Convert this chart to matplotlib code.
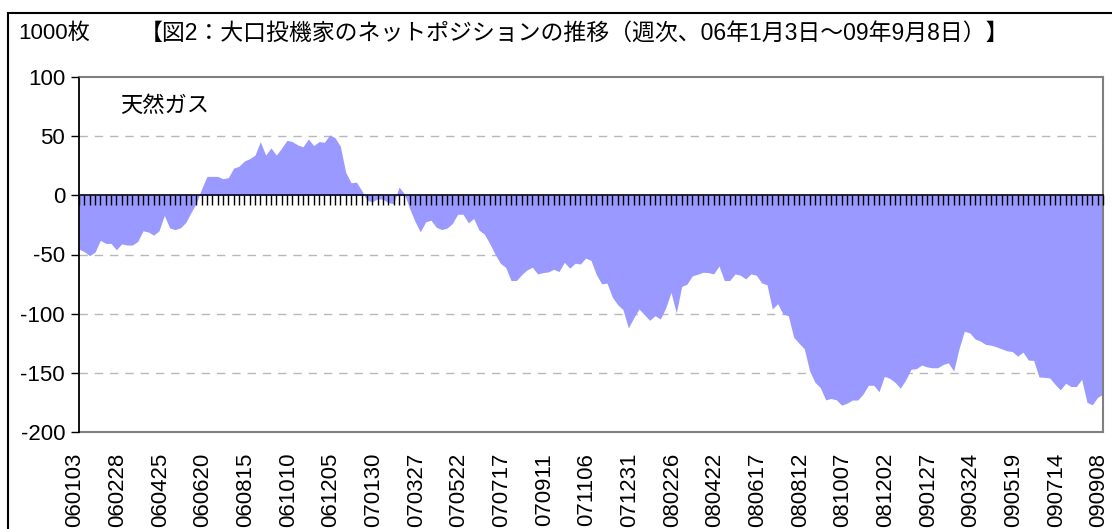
import numpy as np
import matplotlib
matplotlib.use('Agg')
import matplotlib.pyplot as plt
from matplotlib.patches import Rectangle
from matplotlib.transforms import ScaledTranslation

plt.rcParams['font.family'] = ['Liberation Sans', 'Noto Sans CJK JP', 'DejaVu Sans']

# 大口投機家のネットポジション（天然ガス、週次、1000枚）
net_position = [
    -45.4, -47.6, -51, -48, -38, -40.6, -40.6, -46, -41, -42, -42, -39, -30, -31, -33.6, -30,
    -17, -27.5, -29, -27.5, -23, -14.6, -6.4, 5.6, 16, 16, 16, 14, 15, 23, 24.6, 29, 31,
    34, 45.4, 34, 40, 34, 40, 46.5, 45.4, 42.6, 41, 47.6, 42, 45.4, 44.8, 51, 48.7,
    41.5, 19.6, 10.6, 11.2, 4.2, -4.2, -5.6, -2.8, -3.4, -6.2, -7, 7, 1.4, -11.2, -22, -30.8,
    -22.4, -21, -27, -28.9, -27.7, -23.8, -16, -16, -23.2, -19.6, -29.4, -32.8, -40.6, -49.6,
    -57.4, -60.8, -72, -72, -67, -63, -60.8, -66.4, -65.3, -64.7, -62.5, -64.4, -56.6, -61.6,
    -57.4, -58, -53, -55,
    -67, -74.8, -74.2, -86, -92.4, -96.6, -112, -103.6, -96, -100.8, -105.6, -101.7, -104.5,
    -95.2, -82, -99.4, -77, -75, -68, -66.7, -65, -65.3, -66.4, -59.7, -72, -72, -66.4, -67.5,
    -70.6, -66.4, -67.5, -74,
    -75.6, -96, -91.6, -100.3, -101.7, -119.9, -125, -129.7, -148.5, -158, -162.5, -172.8,
    -171.7, -172.8, -177.3, -175.6, -173, -173, -168, -160.5, -160.5, -166, -153, -154.6,
    -158, -163, -156, -147, -146.5, -143.4, -145, -145.7,
    -145.7, -143, -141.5, -148.5, -129.7, -114.8, -116.2, -121.3, -123.2, -126, -126.6, -128,
    -129.7, -131.4, -132, -135.9, -132.5, -139.2, -139.5, -153.5, -153.8, -154.3, -159.7,
    -164.4, -158.8, -161.6, -161.6, -155.5, -175, -177, -170.6, -168,
]

date_labels = ['060103', '060228', '060425', '060620', '060815', '061010', '061205',
               '070130', '070327', '070522', '070717', '070911', '071106', '071231',
               '080226', '080422', '080617', '080812', '081007', '081202', '090127',
               '090324', '090519', '090714', '090908']
label_step = 8
y_ticks = [-200, -150, -100, -50, 0, 50, 100]

weeks = np.arange(len(net_position))

fig = plt.figure(figsize=(11.12, 5.29), dpi=100)
ax = fig.add_axes([79 / 1112, 1 - 432 / 529, 1024 / 1112, 355 / 529])
ax.set_axisbelow(False)

ax.fill_between(weeks, 0, net_position, color='#9999FF', linewidth=0, zorder=2)

ax.set_xlim(0, len(net_position) - 1)
ax.set_ylim(-200, 100)
ax.set_yticks(y_ticks)
ax.set_yticklabels([str(v) for v in y_ticks], fontsize=16)
ax.tick_params(axis='y', direction='out', length=6, width=1, pad=4, color='black')

for v in y_ticks:
    if v not in (-200, 0, 100):
        ax.axhline(v, color='#b8b8b8', linestyle=(0, (6, 5)), linewidth=1, zorder=1)

# x軸は0の位置（週ごとの目盛）
ax.spines['bottom'].set_position(('data', 0))
ax.spines['bottom'].set_color('#101030')
ax.spines['bottom'].set_linewidth(1.3)
ax.set_xticks(weeks)
ax.tick_params(axis='x', direction='out', length=7, width=1, color='black', labelbottom=False)
ax.spines['left'].set_color('black')
ax.spines['left'].set_linewidth(1.3)
for s in ['top', 'right']:
    ax.spines[s].set_color('#808080')
    ax.spines[s].set_linewidth(1.5)

sec = ax.secondary_xaxis('bottom')
sec.set_xticks(weeks[::label_step])
sec.set_xticklabels(date_labels, rotation=90, fontsize=16, va='top')
sec.tick_params(length=0, pad=15)
sec.spines['bottom'].set_color('#808080')
sec.spines['bottom'].set_linewidth(1.5)
for lbl in sec.get_xticklabels():
    lbl.set_transform(lbl.get_transform() + ScaledTranslation(-4 / 100, 0, fig.dpi_scale_trans))

fig.text(120 / 1112, 1 - 106 / 529, '天然ガス', fontsize=16, va='center', ha='left')
fig.text(18 / 1112, 1 - 33 / 529, '1000枚', fontsize=16, va='center', ha='left')
fig.text(140 / 1112, 1 - 33 / 529,
         '【図2：大口投機家のネットポジションの推移（週次、06年1月3日～09年9月8日）】',
         fontsize=16.5, va='center', ha='left')

fig.patches.append(Rectangle((8 / 1112, -0.1), 1.2, 1 - 13 / 529 + 0.1, transform=fig.transFigure,
                             fill=False, edgecolor='black', linewidth=1.5, clip_on=False))

fig.savefig('out.png', dpi=100)
